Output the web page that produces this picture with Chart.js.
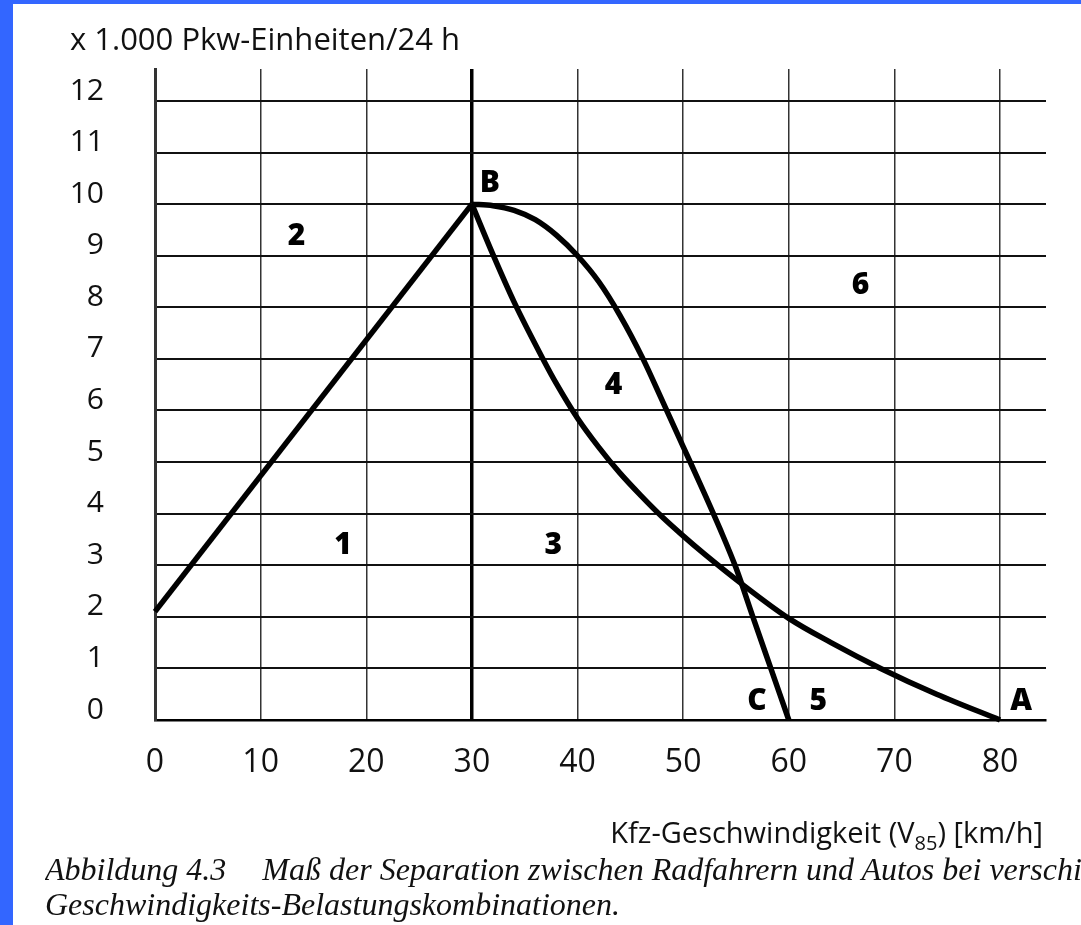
<!DOCTYPE html>
<html>
<head>
<meta charset="utf-8">
<script src="https://cdn.jsdelivr.net/npm/chart.js@4.4.1/dist/chart.umd.min.js"></script>
<style>
  html, body { margin: 0; padding: 0; background: #fff; }
  body { width: 1081px; height: 925px; position: relative; overflow: hidden; }
  #edgeLeft { position: absolute; left: 0; top: 0; width: 13px; height: 925px; background: #3366ff; }
  #edgeTop { position: absolute; left: 0; top: 0; width: 1081px; height: 4px; background: #3366ff; }
  #chartBox { position: absolute; left: 0; top: 0; width: 1081px; height: 925px; }
  .caption {
    position: absolute; left: 45px; right: 0;
    font-family: "Liberation Serif", "DejaVu Serif", serif; font-style: italic;
    font-size: 32px; line-height: 36px; white-space: nowrap; overflow: hidden; color: #111;
  }
</style>
</head>
<body>
<div id="edgeLeft"></div>
<div id="edgeTop"></div>
<div id="chartBox"><canvas id="sepChart" width="1081" height="925"></canvas></div>
<div class="caption" style="top:851px">Abbildung 4.3<span style="display:inline-block;width:36px"></span>Maß der Separation zwischen Radfahrern und Autos bei verschiedenen</div>
<div class="caption" style="top:886px">Geschwindigkeits-Belastungskombinationen.</div>

<script>
// Achsen
const xMax = 84.35;   // grid runs a bit past 80
const yMax = 12.62;   // vertical grid lines run above 12
const yTitle = 'x 1.000 Pkw-Einheiten/24 h';

// Gerade vom Wert bei 0 km/h bis B
const lineOB_x = [0, 30];
const lineOB_y = [2.1, 10];

// Kurve B -> A (untere Grenze)
const curveBA_x = [30, 32, 34, 36.8, 38, 40, 42, 44, 46, 48, 50, 52, 55.6, 60, 64, 68.7, 74, 80];
const curveBA_y = [10, 9.02, 8.1, 6.97, 6.52, 5.85, 5.29, 4.79, 4.35, 3.94, 3.57, 3.22, 2.63, 1.97, 1.5, 1.0, 0.5, 0];

// Kurve B -> C (obere Grenze)
const curveBC_x = [30, 32, 34, 36, 38, 40, 42, 44, 46.2, 48, 50, 52, 53.5, 55, 56.6, 58.3, 60];
const curveBC_y = [10, 9.97, 9.88, 9.7, 9.4, 9.0, 8.5, 7.85, 7.0, 6.2, 5.3, 4.4, 3.7, 2.95, 2.0, 1.0, 0];

// Bereichsnummern und Punktbuchstaben (Datenkoordinaten)
const areaLabels = ['1', '2', '3', '4', '5', '6', 'B', 'C', 'A'];
const areaX = [17.8, 13.4, 37.7, 43.4, 62.8, 66.8, 31.7, 57.0, 82.0];
const areaY = [3.39, 9.37, 3.39, 6.48, 0.35, 8.42, 10.41, 0.35, 0.35];

function toPoints(xs, ys) {
  return xs.map((x, i) => ({ x: x, y: ys[i] }));
}

const curveStyle = {
  showLine: true,
  borderColor: '#000',
  borderWidth: 5.5,
  pointRadius: 0,
  fill: false,
  clip: false,
  borderCapStyle: 'butt',
  borderJoinStyle: 'round'
};

// draws the bold region numbers, axis titles
const labelPlugin = {
  id: 'sepLabels',
  afterDatasetsDraw(chart) {
    const ctx = chart.ctx;
    const xs = chart.scales.x;
    const ys = chart.scales.y;
    ctx.save();
    ctx.fillStyle = '#000';
    ctx.font = '800 30px "Open Sans"';
    ctx.textAlign = 'center';
    ctx.textBaseline = 'middle';
    areaLabels.forEach((t, i) => {
      ctx.fillText(t, xs.getPixelForValue(areaX[i]), ys.getPixelForValue(areaY[i]));
    });

    // y title top left
    ctx.font = '31px "Open Sans"';
    ctx.textAlign = 'left';
    ctx.textBaseline = 'alphabetic';
    ctx.fillStyle = '#111';
    ctx.fillText(yTitle, 70, 50);

    // x title with subscript, right aligned
    const big = '29px "Open Sans"';
    const small = '20px "Open Sans"';
    const partA = 'Kfz-Geschwindigkeit (V';
    const partB = '85';
    const partC = ') [km/h]';
    ctx.font = big;
    const wA = ctx.measureText(partA).width;
    const wC = ctx.measureText(partC).width;
    ctx.font = small;
    const wB = ctx.measureText(partB).width;
    const right = 1043;
    const base = 843;
    const x0 = right - (wA + wB + wC);
    ctx.font = big;
    ctx.fillText(partA, x0, base);
    ctx.font = small;
    ctx.fillText(partB, x0 + wA, base + 7);
    ctx.font = big;
    ctx.fillText(partC, x0 + wA + wB, base);
    ctx.restore();
  }
};

new Chart(document.getElementById('sepChart'), {
  type: 'scatter',
  data: {
    datasets: [
      Object.assign({ label: 'O-B', data: toPoints(lineOB_x, lineOB_y), tension: 0 }, curveStyle),
      Object.assign({ label: 'B-A', data: toPoints(curveBA_x, curveBA_y), cubicInterpolationMode: 'monotone' }, curveStyle),
      Object.assign({ label: 'B-C', data: toPoints(curveBC_x, curveBC_y), cubicInterpolationMode: 'monotone' }, curveStyle)
    ]
  },
  options: {
    responsive: false,
    animation: false,
    layout: { padding: { left: 0, top: 68, right: 35, bottom: 0 } },
    plugins: {
      legend: { display: false },
      tooltip: { enabled: false }
    },
    scales: {
      x: {
        type: 'linear',
        min: 0,
        max: xMax,
        afterFit(scale) { scale.height = 205; },
        ticks: {
          stepSize: 10,
          includeBounds: false,
          padding: 24,
          color: '#111',
          font: { family: 'Open Sans', size: 32 }
        },
        grid: {
          drawTicks: false,
          color: (c) => (c.tick && c.tick.value === 30 ? '#000' : '#333'),
          lineWidth: (c) => (c.tick && c.tick.value === 30 ? 3.5 : 1.5)
        },
        border: { display: true, color: '#000', width: 2.5 }
      },
      y: {
        type: 'linear',
        min: 0,
        max: yMax,
        afterFit(scale) { scale.width = 155; },
        ticks: {
          stepSize: 1,
          includeBounds: false,
          padding: 51,
          labelOffset: -10,
          color: '#111',
          font: { family: 'Open Sans', size: 30 }
        },
        grid: {
          drawTicks: false,
          color: '#111',
          lineWidth: 2
        },
        border: { display: true, color: '#333', width: 3 }
      }
    }
  },
  plugins: [labelPlugin]
});
</script>
</body>
</html>
